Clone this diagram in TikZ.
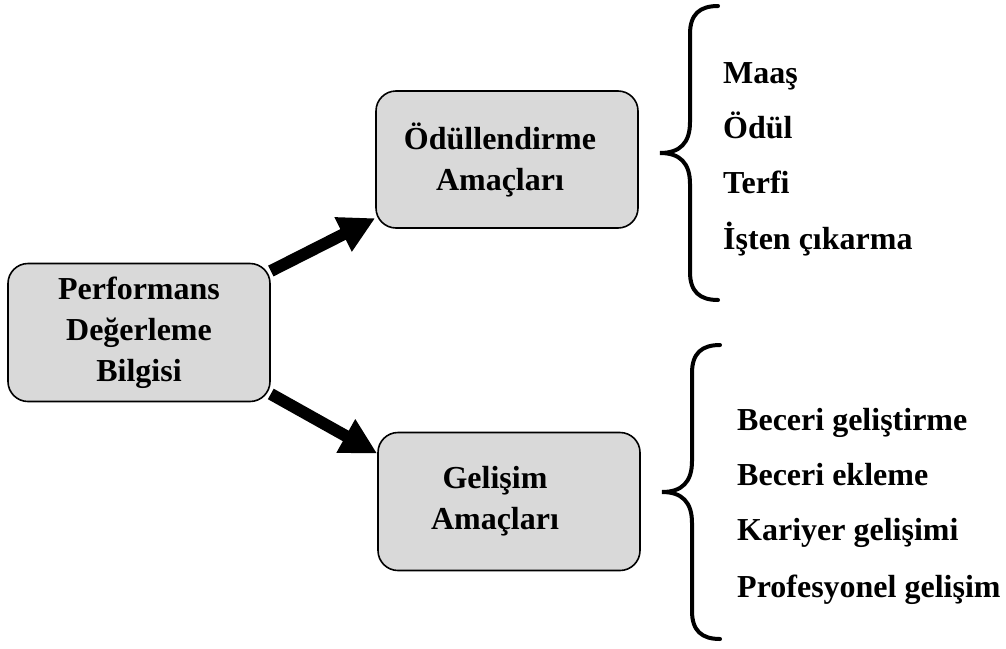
\documentclass[tikz,border=0pt]{standalone}
\usepackage{fontspec}
\setmainfont{Liberation Serif}
\usetikzlibrary{arrows.meta}
\pgfdeclarelayer{bg}
\pgfsetlayers{bg,main}
\definecolor{boxgray}{HTML}{D9D9D9}
\begin{document}
\begin{tikzpicture}[x=1pt,y=-1pt,
  box/.style={draw=black,line width=1.6pt,fill=boxgray,rounded corners=20pt,
    minimum width=262pt,minimum height=138pt,align=center,inner sep=0pt,
    font=\bfseries\fontsize{32}{41}\selectfont},
  item/.style={anchor=base west,inner sep=0pt,font=\bfseries\fontsize{32}{37}\selectfont},
  bigarrow/.style={line width=12pt,-{Triangle[length=36pt,width=36pt]}},
  bracestyle/.style={line width=4pt,line cap=round}]
\useasboundingbox (0,0) rectangle (1006,648);
\node[box] (perf) at (139,332.5) {Performans\\Değerleme\\Bilgisi};
\node[box,minimum height=137pt] (odul) at (507,159.5) {Ödüllendirme\hspace*{14pt}\\Amaçları\hspace*{14pt}};
\node[box] (gel) at (509,501.5) {Gelişim\hspace*{28pt}\\Amaçları\hspace*{28pt}};
\begin{pgfonlayer}{bg}
\draw[bigarrow] (perf.25) -- (odul.204);
\draw[bigarrow] (perf.-25) -- (gel.160);
\end{pgfonlayer}
\draw[bracestyle] (718,6) .. controls (700,6) and (690,14) .. (690,34) -- (690,122)
  .. controls (690,143) and (680,153) .. (660,153)
  .. controls (680,153) and (690,163) .. (690,184) -- (690,272)
  .. controls (690,292) and (700,300) .. (718,300);
\begin{scope}[shift={(2,339)}]
\draw[bracestyle] (718,6) .. controls (700,6) and (690,14) .. (690,34) -- (690,122)
  .. controls (690,143) and (680,153) .. (660,153)
  .. controls (680,153) and (690,163) .. (690,184) -- (690,272)
  .. controls (690,292) and (700,300) .. (718,300);
\end{scope}
\node[item] (t1) at (723,83) {Maaş};
\node[item] (t2) at (723,138) {Ödül};
\node[item] (t3) at (723,193) {Terfi};
\node[item] (t4) at (723,249) {İşten çıkarma};
\node[item] (b1) at (737,430) {Beceri geliştirme};
\node[item] (b2) at (737,485) {Beceri ekleme};
\node[item] (b3) at (737,540) {Kariyer gelişimi};
\node[item] (b4) at (737,597) {Profesyonel gelişim};
\end{tikzpicture}
\end{document}
